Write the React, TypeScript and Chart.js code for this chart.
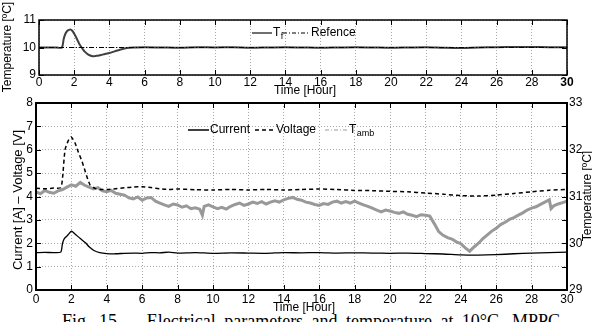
import React, { useEffect, useRef } from 'react';
import { Chart, registerables } from 'chart.js';
Chart.register(...registerables);

const FONT = '"Liberation Sans", Arial, sans-serif';

// ---------- shared ticks ----------
const hourTicks = [0, 2, 4, 6, 8, 10, 12, 14, 16, 18, 20, 22, 24, 26, 28, 30];
const topTempTicks = [9, 10, 11];
const elecTicks = [0, 1, 2, 3, 4, 5, 6, 7, 8];
const ambTicks = [29, 29.5, 30, 30.5, 31, 31.5, 32, 32.5, 33];

// ---------- top panel: fluid temperature ----------
const tfTime = [0, 0.5, 1.0, 1.3, 1.4, 1.5, 1.6, 1.7, 1.8, 1.9, 2.0, 2.1, 2.2, 2.3, 2.4, 2.5, 2.6, 2.8, 3.0, 3.1, 3.2, 3.4, 3.6, 3.8, 4.0, 4.3, 4.6, 5.0, 5.5, 6, 7, 8, 9, 10, 11, 12, 13, 14, 15, 16, 17, 18, 19, 20, 21, 22, 23, 24, 25, 26, 27, 28, 29, 30];
const tfValue = [10.0, 10.0, 10.0, 10.0, 10.3, 10.5, 10.6, 10.64, 10.65, 10.6, 10.5, 10.38, 10.25, 10.12, 10.02, 9.93, 9.85, 9.74, 9.69, 9.68, 9.69, 9.71, 9.74, 9.77, 9.8, 9.86, 9.92, 9.98, 10.0, 10.01, 10.0, 9.99, 10.01, 10.0, 10.01, 9.99, 10.0, 10.01, 10.0, 9.99, 10.0, 10.01, 10.0, 9.99, 10.0, 10.01, 9.99, 9.98, 10.0, 10.01, 10.02, 10.02, 10.01, 10.01];
const refTime = [0, 30];
const refValue = [10, 10];

// ---------- bottom panel ----------
const currentTime = [0, 0.5, 1, 1.4, 1.5, 1.6, 1.8, 2.0, 2.2, 2.5, 2.8, 3.0, 3.3, 3.6, 4.0, 4.5, 5, 5.5, 6, 6.5, 7, 7.5, 8, 9, 10, 11, 12, 13, 14, 15, 16, 17, 18, 19, 20, 21, 22, 23, 24, 25, 26, 27, 28, 29, 30];
const currentValue = [1.6, 1.61, 1.6, 1.62, 2.0, 2.2, 2.35, 2.52, 2.4, 2.2, 2.02, 1.85, 1.68, 1.6, 1.56, 1.55, 1.57, 1.58, 1.57, 1.6, 1.59, 1.62, 1.58, 1.6, 1.57, 1.59, 1.58, 1.57, 1.6, 1.59, 1.6, 1.58, 1.59, 1.58, 1.57, 1.58, 1.56, 1.54, 1.5, 1.49, 1.51, 1.55, 1.58, 1.6, 1.62];

const voltageTime = [0, 0.5, 1, 1.4, 1.5, 1.64, 1.8, 1.98, 2.2, 2.39, 2.6, 2.77, 3.05, 3.33, 3.6, 4, 4.5, 5, 5.5, 6, 6.5, 7, 7.5, 8, 9, 10, 11, 12, 13, 14, 15, 16, 17, 18, 19, 20, 21, 22, 23, 24, 25, 26, 27, 28, 29, 30];
const voltageValue = [4.35, 4.33, 4.36, 4.38, 4.8, 6.0, 6.35, 6.55, 6.3, 5.9, 5.5, 5.1, 4.5, 4.35, 4.3, 4.3, 4.33, 4.37, 4.4, 4.42, 4.38, 4.33, 4.3, 4.32, 4.29, 4.28, 4.3, 4.28, 4.3, 4.28, 4.3, 4.32, 4.3, 4.26, 4.25, 4.22, 4.2, 4.15, 4.1, 4.04, 4.02, 4.06, 4.13, 4.2, 4.27, 4.3];

const ambTime = [
  0, 0.25, 0.5, 0.75, 1, 1.25, 1.5, 1.75, 2, 2.25,
  2.5, 2.75, 3, 3.25, 3.5, 3.75, 4, 4.25, 4.5, 4.75,
  5, 5.25, 5.5, 5.75, 6, 6.25, 6.5, 6.75, 7, 7.25,
  7.5, 7.75, 8, 8.25, 8.5, 8.75, 9, 9.25, 9.4, 9.5,
  9.75, 10, 10.25, 10.5, 10.75, 11, 11.25, 11.5, 11.75, 12,
  12.25, 12.5, 12.75, 13, 13.25, 13.5, 13.75, 14, 14.25, 14.5,
  14.75, 15, 15.25, 15.5, 15.75, 16, 16.25, 16.5, 16.75, 17,
  17.25, 17.5, 17.75, 18, 18.25, 18.5, 18.75, 19, 19.25, 19.5,
  19.75, 20, 20.25, 20.5, 20.75, 21, 21.25, 21.5, 21.75, 22,
  22.25, 22.5, 22.75, 23, 23.25, 23.5, 23.75, 24, 24.25, 24.5,
  24.75, 25, 25.25, 25.5, 25.75, 26, 26.25, 26.5, 26.75, 27,
  27.25, 27.5, 27.75, 28, 28.25, 28.5, 28.75, 29, 29.1, 29.25,
  29.5, 29.75, 30,
];
const ambValue = [
  31.10, 31.06, 31.13, 31.09, 31.07, 31.12, 31.15, 31.20, 31.25, 31.22,
  31.30, 31.24, 31.20, 31.16, 31.19, 31.12, 31.10, 31.13, 31.07, 31.05,
  31.03, 30.97, 30.95, 30.99, 30.92, 30.97, 30.98, 30.90, 30.86, 30.82,
  30.79, 30.84, 30.82, 30.77, 30.80, 30.74, 30.76, 30.73, 30.60, 30.79,
  30.82, 30.78, 30.74, 30.77, 30.73, 30.79, 30.83, 30.86, 30.81, 30.84,
  30.88, 30.85, 30.89, 30.84, 30.88, 30.91, 30.88, 30.93, 30.96, 30.98,
  30.94, 30.92, 30.88, 30.86, 30.83, 30.81, 30.85, 30.83, 30.88, 30.90,
  30.86, 30.89, 30.86, 30.90, 30.86, 30.82, 30.79, 30.75, 30.71, 30.67,
  30.71, 30.69, 30.66, 30.64, 30.67, 30.62, 30.60, 30.57, 30.61, 30.60,
  30.58, 30.42, 30.25, 30.17, 30.12, 30.09, 30.03, 29.99, 29.90, 29.83,
  29.92, 30.00, 30.10, 30.18, 30.26, 30.32, 30.40, 30.45, 30.51, 30.55,
  30.60, 30.65, 30.71, 30.75, 30.78, 30.83, 30.88, 30.93, 30.74, 30.80,
  30.84, 30.87, 30.90,
];

const pts = (xs: number[], ys: number[]) => xs.map((x, i) => ({ x, y: ys[i] }));

type LegendItem = { sx: number; ex: number; tx: number; color: string; width: number; dash: number[]; label: string; sub?: string };
type DecorCfg = {
  frameWidth: number;
  leftTicks: number[];
  rightTicks?: number[];
  rightScale?: string;
  legendY: number;
  legend: LegendItem[];
  xTitle: { x: number; y: number; text: string };
  yTitle: { x: number; y: number; text: string; size: number };
  y2Title?: { x: number; y: number; text: string; size: number };
};

function makeDecor(cfg: DecorCfg) {
  return {
    id: 'decor',
    afterDatasetsDraw(chart: any) {
      const { ctx, chartArea: a } = chart;
      const xs = chart.scales.x;
      const ys = chart.scales.y;
      const L = 5;
      ctx.save();
      ctx.strokeStyle = '#000';
      ctx.lineWidth = 1;
      ctx.setLineDash([]);
      ctx.beginPath();
      for (const v of hourTicks) {
        const px = Math.round(xs.getPixelForValue(v)) + 0.5;
        ctx.moveTo(px, a.top); ctx.lineTo(px, a.top + L);
        ctx.moveTo(px, a.bottom); ctx.lineTo(px, a.bottom - L);
      }
      for (const v of cfg.leftTicks) {
        const py = Math.round(ys.getPixelForValue(v)) + 0.5;
        ctx.moveTo(a.left, py); ctx.lineTo(a.left + L, py);
        if (!cfg.rightScale) { ctx.moveTo(a.right, py); ctx.lineTo(a.right - L, py); }
      }
      if (cfg.rightScale && cfg.rightTicks) {
        const rs = chart.scales[cfg.rightScale];
        for (const v of cfg.rightTicks) {
          const py = Math.round(rs.getPixelForValue(v)) + 0.5;
          ctx.moveTo(a.right, py); ctx.lineTo(a.right - L, py);
        }
      }
      ctx.stroke();
      ctx.lineWidth = cfg.frameWidth;
      ctx.strokeRect(a.left, a.top, a.right - a.left, a.bottom - a.top);

      // legend
      const y = cfg.legendY;
      for (const it of cfg.legend) {
        ctx.strokeStyle = it.color;
        ctx.lineWidth = it.width;
        ctx.setLineDash(it.dash);
        ctx.beginPath(); ctx.moveTo(it.sx, y); ctx.lineTo(it.ex, y); ctx.stroke();
        ctx.setLineDash([]);
        ctx.fillStyle = '#000';
        ctx.font = `12px ${FONT}`;
        ctx.textAlign = 'left';
        ctx.textBaseline = 'middle';
        ctx.fillText(it.label, it.tx, y);
        if (it.sub) {
          const w = ctx.measureText(it.label).width;
          ctx.font = `9px ${FONT}`;
          ctx.fillText(it.sub, it.tx + w + 0.5, y + 4);
        }
      }

      // titles
      ctx.fillStyle = '#000';
      ctx.textAlign = 'center';
      ctx.textBaseline = 'middle';
      ctx.font = `12px ${FONT}`;
      ctx.fillText(cfg.xTitle.text, cfg.xTitle.x, cfg.xTitle.y);
      const rot = (t: { x: number; y: number; text: string; size: number }) => {
        ctx.save();
        ctx.translate(t.x, t.y);
        ctx.rotate(-Math.PI / 2);
        ctx.font = `${t.size}px ${FONT}`;
        ctx.fillText(t.text, 0, 0);
        ctx.restore();
      };
      rot(cfg.yTitle);
      if (cfg.y2Title) rot(cfg.y2Title);
      ctx.restore();
    },
  };
}

const gridOpts = { color: '#a8a8a8', lineWidth: 1, drawTicks: false };
const borderOpts = { display: false, dash: [1, 2] };
const tickFont = { family: FONT, size: 12 };

export default function App() {
  const topRef = useRef<HTMLCanvasElement>(null);
  const botRef = useRef<HTMLCanvasElement>(null);

  useEffect(() => {
    const top = new Chart(topRef.current!, {
      type: 'line',
      data: {
        datasets: [
          { label: 'Refence', data: pts(refTime, refValue), borderColor: '#000', borderWidth: 1, borderDash: [5, 2, 1, 2], pointRadius: 0, tension: 0 },
          { label: 'Tf', data: pts(tfTime, tfValue), borderColor: '#404040', borderWidth: 2, pointRadius: 0, tension: 0.3 },
        ],
      },
      options: {
        responsive: false,
        animation: false,
        devicePixelRatio: 1,
        layout: { padding: { top: 20, right: 25, left: 0, bottom: 0 } },
        plugins: { legend: { display: false }, tooltip: { enabled: false } },
        scales: {
          x: {
            type: 'linear', min: 0, max: 30,
            afterBuildTicks: (s: any) => { s.ticks = hourTicks.map((v) => ({ value: v })); },
            afterFit: (s: any) => { s.height = 25; },
            grid: gridOpts, border: borderOpts,
            ticks: {
              padding: 0, color: '#000', autoSkip: false, maxRotation: 0,
              font: (c: any) => ({ family: FONT, size: 12, weight: c.tick && c.tick.value === 30 ? 'bold' : 'normal' }),
            },
          },
          y: {
            min: 9, max: 11,
            afterBuildTicks: (s: any) => { s.ticks = topTempTicks.map((v) => ({ value: v })); },
            afterFit: (s: any) => { s.width = 39; },
            grid: gridOpts, border: borderOpts,
            ticks: { padding: 3, color: '#000', font: tickFont },
          },
        },
      } as any,
      plugins: [makeDecor({
        frameWidth: 1.5,
        leftTicks: topTempTicks,
        legendY: 33,
        legend: [
          { sx: 252, ex: 272, tx: 273, color: '#404040', width: 1.5, dash: [], label: 'T', sub: 'f' },
          { sx: 283, ex: 308, tx: 311, color: '#000', width: 1, dash: [4, 2, 1, 2], label: 'Refence' },
        ],
        xTitle: { x: 305, y: 91, text: 'Time [Hour]' },
        yTitle: { x: 7.5, y: 47, text: 'Temperature [ºC]', size: 12 },
      })],
    });

    const bot = new Chart(botRef.current!, {
      type: 'line',
      data: {
        datasets: [
          { label: 'Current', data: pts(currentTime, currentValue), borderColor: '#000', borderWidth: 1.3, pointRadius: 0, tension: 0.2, yAxisID: 'y' },
          { label: 'Voltage', data: pts(voltageTime, voltageValue), borderColor: '#000', borderWidth: 1.5, borderDash: [4, 3], pointRadius: 0, tension: 0.2, yAxisID: 'y' },
          { label: 'Tamb', data: pts(ambTime, ambValue), borderColor: '#999999', borderWidth: 3, pointRadius: 0, tension: 0, yAxisID: 'y1' },
        ],
      },
      options: {
        responsive: false,
        animation: false,
        devicePixelRatio: 1,
        layout: { padding: { top: 13, right: 0, left: 0, bottom: 0 } },
        plugins: { legend: { display: false }, tooltip: { enabled: false } },
        scales: {
          x: {
            type: 'linear', min: 0, max: 30,
            afterBuildTicks: (s: any) => { s.ticks = hourTicks.map((v) => ({ value: v })); },
            afterFit: (s: any) => { s.height = 32; },
            grid: gridOpts, border: borderOpts,
            ticks: { padding: 2, color: '#000', autoSkip: false, maxRotation: 0, font: tickFont },
          },
          y: {
            position: 'left', min: 0, max: 8,
            afterBuildTicks: (s: any) => { s.ticks = elecTicks.map((v) => ({ value: v })); },
            afterFit: (s: any) => { s.width = 36; },
            grid: gridOpts, border: borderOpts,
            ticks: { padding: 3, color: '#000', font: tickFont },
          },
          y1: {
            position: 'right', min: 29, max: 33,
            afterBuildTicks: (s: any) => { s.ticks = ambTicks.map((v) => ({ value: v })); },
            afterFit: (s: any) => { s.width = 25; },
            grid: { display: false, drawTicks: false }, border: { display: false },
            ticks: { padding: 2, color: '#000', font: tickFont, autoSkip: false, callback: (v: any) => (Number.isInteger(v) ? String(v) : '') },
          },
        },
      } as any,
      plugins: [makeDecor({
        frameWidth: 2,
        leftTicks: elecTicks,
        rightTicks: ambTicks,
        rightScale: 'y1',
        legendY: 40,
        legend: [
          { sx: 188, ex: 209, tx: 210, color: '#000', width: 1.5, dash: [], label: 'Current' },
          { sx: 255, ex: 275, tx: 276, color: '#000', width: 1.5, dash: [4, 3], label: 'Voltage' },
          { sx: 325, ex: 347, tx: 349, color: '#9a9a9a', width: 1, dash: [4, 2, 1, 2], label: 'T', sub: 'amb' },
        ],
        xTitle: { x: 304, y: 218, text: 'Time [Hour]' },
        yTitle: { x: 18.5, y: 110, text: 'Current [A] – Voltage [V]', size: 13 },
        y2Title: { x: 588, y: 106, text: 'Temperature [ºC]', size: 12 },
      })],
    });

    return () => { top.destroy(); bot.destroy(); };
  }, []);

  return (
    <div style={{ position: 'fixed', left: 0, top: 0, width: 592, height: 322, overflow: 'hidden', background: '#fff' }}>
      <div style={{ position: 'absolute', left: 62, top: 311, width: 498, font: '18px "Liberation Serif", serif', textAlign: 'justify', textAlignLast: 'justify' as any, whiteSpace: 'nowrap' }}>
        Fig. 15.&nbsp;&nbsp; Electrical parameters and temperature at 10°C, MPPC
      </div>
      <canvas ref={topRef} width={592} height={100} style={{ position: 'absolute', left: 0, top: 0, width: 592, height: 100 }} />
      <canvas ref={botRef} width={592} height={232} style={{ position: 'absolute', left: 0, top: 90, width: 592, height: 232 }} />
    </div>
  );
}
